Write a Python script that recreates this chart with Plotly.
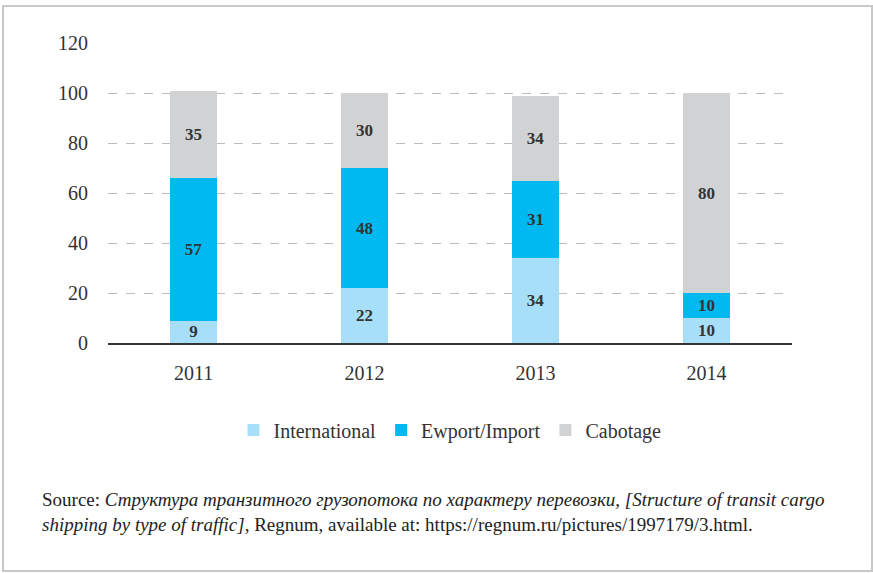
import plotly.graph_objects as go

years = ["2011", "2012", "2013", "2014"]
international = [9, 22, 34, 10]
export_import = [57, 48, 31, 10]
cabotage = [35, 30, 34, 80]

W, H = 873, 573
ML, MR, MT, MB = 108, 81, 43, 230
PW, PH = W - ML - MR, H - MT - MB

FONT = "Liberation Serif"
series = [
    ("International", international, "#a8dff8"),
    ("Ewport/Import", export_import, "#00b9f0"),
    ("Cabotage", cabotage, "#d1d2d4"),
]

fig = go.Figure()
for name, vals, col in series:
    fig.add_trace(go.Bar(
        x=years, y=vals, name=name,
        marker=dict(color=col, line=dict(width=0)),
        text=vals, texttemplate="<b>%{text}</b>",
        textposition="inside", insidetextanchor="middle", textangle=0,
        constraintext="none",
        textfont=dict(family=FONT, size=17, color="#333333"),
        hoverinfo="skip",
    ))


def px_x(p):
    return (p - ML) / PW


def px_y(p):
    return (H - MB - p) / PH


fig.update_layout(
    barmode="stack",
    bargap=0.725,
    width=W, height=H,
    margin=dict(l=ML, r=MR, t=MT, b=MB),
    plot_bgcolor="white", paper_bgcolor="white",
    font=dict(family=FONT, size=20, color="#333333"),
    uniformtext=dict(mode="show", minsize=17),
    xaxis=dict(
        showgrid=False, showline=True, linecolor="#333333", linewidth=2,
        ticks="outside", ticklen=11, tickcolor="rgba(0,0,0,0)",
        tickfont=dict(size=20, color="#333333"),
    ),
    yaxis=dict(
        range=[0, 120], dtick=20, showline=False, zeroline=False,
        gridcolor="#bbbbbb", griddash="dash", gridwidth=1,
        ticks="outside", ticklen=15, tickcolor="rgba(0,0,0,0)",
        tickfont=dict(size=20, color="#333333"),
    ),
    legend=dict(
        orientation="h", x=0.5, xanchor="center", y=px_y(430), yanchor="middle",
        font=dict(size=20, color="#333333"), itemwidth=30,
        traceorder="normal",
    ),
    showlegend=True,
)

fig.add_annotation(
    xref="paper", yref="paper", x=px_x(40), y=px_y(512),
    xanchor="left", yanchor="middle", align="left", showarrow=False,
    text=("Source: <i>Структура транзитного грузопотока по характеру перевозки, "
          "[Structure of transit cargo</i><br><i>shipping by type of traffic]</i>, "
          "Regnum, available at: https://regnum.ru/pictures/1997179/3.html."),
    font=dict(family=FONT, size=19, color="#222222"),
)

fig.add_shape(
    type="rect", xref="paper", yref="paper",
    x0=px_x(3), x1=px_x(872), y0=px_y(571), y1=px_y(6),
    line=dict(color="#c8c8c8", width=2), fillcolor="rgba(0,0,0,0)", layer="below",
)

fig.write_html("out.html", config={"displayModeBar": False},
               post_script="document.body.style.margin='0';")
